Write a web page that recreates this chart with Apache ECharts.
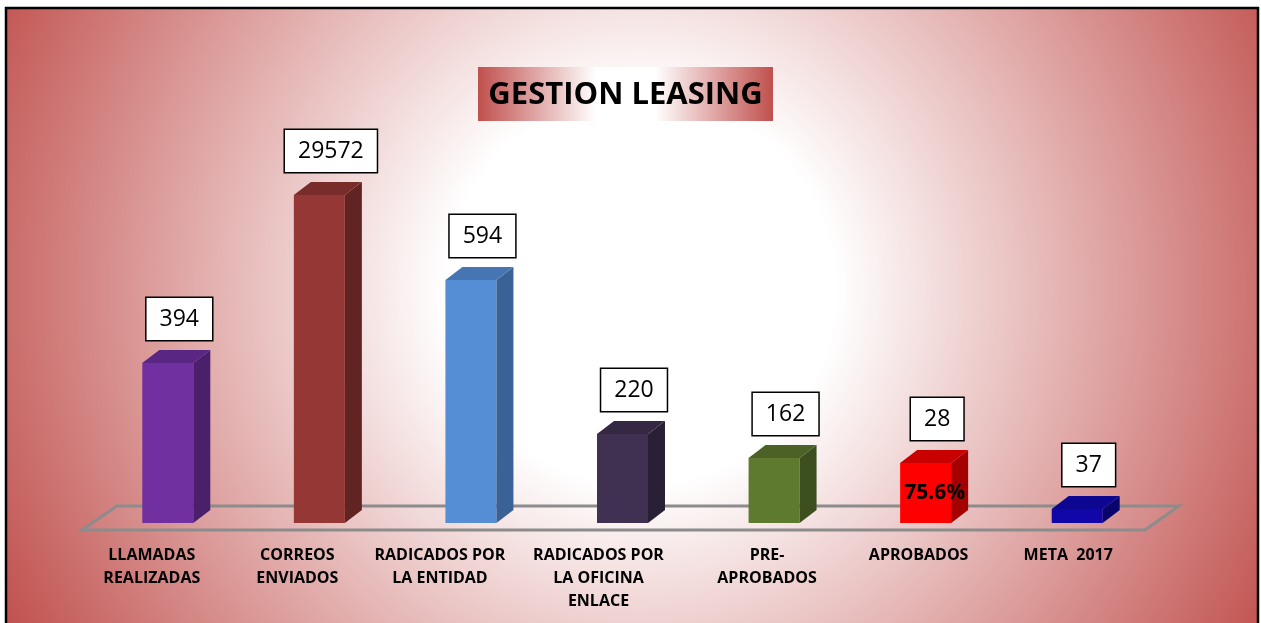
<!DOCTYPE html>
<html>
<head>
<meta charset="utf-8">
<script src="https://cdn.jsdelivr.net/npm/echarts@6/dist/echarts.min.js"></script>
<style>
  html, body { margin: 0; padding: 0; background: #fff; }
  #main { width: 1261px; height: 623px; }
</style>
</head>
<body>
<div id="main"></div>
<script>
// categories and values
const categories = [
  'LLAMADAS\nREALIZADAS',
  'CORREOS\nENVIADOS',
  'RADICADOS POR\nLA ENTIDAD',
  'RADICADOS POR\nLA OFICINA\nENLACE',
  'PRE-\nAPROBADOS',
  'APROBADOS',
  'META  2017'
]
const labelValues = [394, 29572, 594, 220, 162, 28, 37]
// bar heights as drawn in the original (its scale does not follow the labels)
const barHeights = [160, 328, 243, 89, 65, 60, 14]
const innerLabels = ['', '', '', '', '', '75.6%', '']

const frontColors = ['#7030a0', '#953735', '#558ed5', '#403152', '#5e7a2f', '#ff0000', '#1107a8']
const sideColors = ['#4a1f6b', '#622422', '#3a6297', '#2a2036', '#3d4f1e', '#a50000', '#09046c']
const topColors = ['#5a2683', '#792d2b', '#4675b2', '#342842', '#4b6126', '#c80000', '#0c0690']
// how far each category label sits left of its bar (px)
const labelShift = [16, 22, 31, 24, 7, 7, 9]

const chart = echarts.init(document.getElementById('main'))

function renderFloor(params, api) {
  const cs = params.coordSys
  const yf = cs.y + cs.height + 7
  const yb = yf - 24
  const xl = cs.x - 10
  const xr = cs.x + cs.width - 8
  return {
    type: 'polygon',
    shape: { points: [[xl, yf], [xr, yf], [xr + 34, yb], [xl + 35, yb]] },
    style: { fill: 'rgba(255,255,255,0.05)', stroke: '#8c8c8c', lineWidth: 3 }
  }
}

function renderBar(params, api) {
  const i = params.dataIndex
  const base = api.coord([api.value(0), 0])
  const top = api.coord([api.value(0), api.value(1)])
  const w = 51, dx = 17, dy = 13
  const x0 = base[0] - w / 2
  const x1 = base[0] + w / 2
  const yb = base[1]
  const yt = top[1]
  const children = [
    {
      type: 'rect',
      shape: { x: x0, y: yt, width: w, height: yb - yt },
      style: { fill: frontColors[i] }
    },
    {
      type: 'polygon',
      shape: { points: [[x1, yt], [x1 + dx, yt - dy], [x1 + dx, yb - dy], [x1, yb]] },
      style: { fill: sideColors[i] }
    },
    {
      type: 'polygon',
      shape: { points: [[x0, yt], [x0 + dx, yt - dy], [x1 + dx, yt - dy], [x1, yt]] },
      style: { fill: topColors[i] }
    },
    {
      type: 'text',
      style: {
        text: String(labelValues[i]),
        x: base[0] + dx / 2 + 3,
        y: yt - dy - 10,
        align: 'center',
        verticalAlign: 'bottom',
        fontFamily: 'Open Sans',
        fontSize: 23,
        lineHeight: 30,
        fill: '#000',
        backgroundColor: '#fff',
        borderColor: '#000',
        borderWidth: 1.5,
        padding: [6, 13]
      },
      z2: 10
    }
  ]
  if (innerLabels[i]) {
    children.push({
      type: 'text',
      style: {
        text: innerLabels[i],
        x: base[0] + 9,
        y: (yt + yb) / 2,
        align: 'center',
        verticalAlign: 'middle',
        fontFamily: 'Open Sans',
        fontWeight: 'bold',
        fontSize: 21,
        fill: '#000'
      },
      z2: 10
    })
  }
  return { type: 'group', children: children }
}

const rich = {}
labelShift.forEach((s, i) => {
  rich['s' + i] = {
    color: '#000',
    fontFamily: 'Open Sans',
    fontWeight: 'bold',
    fontSize: 16,
    lineHeight: 23,
    padding: [0, s * 2, 0, 0]
  }
})

const option = {
  backgroundColor: '#fff',
  animation: false,
  graphic: [
    {
      type: 'rect',
      z: -10,
      silent: true,
      shape: { x: 6, y: 8, width: 1252, height: 700 },
      style: {
        fill: new echarts.graphic.RadialGradient(640, 290, 720, [
          { offset: 0, color: '#ffffff' },
          { offset: 0.27, color: '#ffffff' },
          { offset: 1, color: '#c0504d' }
        ], true),
        stroke: '#000',
        lineWidth: 2.5
      }
    },
    {
      type: 'group',
      left: 478,
      top: 67,
      z: 10,
      children: [
        {
          type: 'rect',
          shape: { x: 0, y: 0, width: 295, height: 54 },
          style: {
            fill: new echarts.graphic.LinearGradient(0, 0, 1, 0, [
              { offset: 0, color: '#c0504d' },
              { offset: 0.4, color: '#ffffff' },
              { offset: 0.6, color: '#ffffff' },
              { offset: 1, color: '#c0504d' }
            ])
          }
        },
        {
          type: 'text',
          style: {
            text: 'GESTION LEASING',
            x: 147.5,
            y: 28,
            align: 'center',
            verticalAlign: 'middle',
            fontFamily: 'Open Sans',
            fontWeight: 'bold',
            fontSize: 31,
            fill: '#000'
          }
        }
      ]
    }
  ],
  grid: { left: 92, right: 108, top: 173, bottom: 100 },
  xAxis: {
    type: 'category',
    data: categories,
    axisLine: { show: false },
    axisTick: { show: false },
    axisLabel: {
      interval: 0,
      margin: 21,
      lineHeight: 23,
      formatter: (value, index) => value.split('\n').map((line) => '{s' + index + '|' + line + '}').join('\n'),
      rich: rich
    }
  },
  yAxis: {
    type: 'value',
    min: 0,
    max: 350,
    show: false
  },
  series: [
    {
      type: 'custom',
      z: 1,
      silent: true,
      renderItem: renderFloor,
      data: [[0, 0]],
      encode: { x: 0, y: 1 }
    },
    {
      type: 'custom',
      z: 2,
      renderItem: renderBar,
      data: barHeights.map((h, i) => [i, h]),
      encode: { x: 0, y: 1 }
    }
  ]
}

chart.setOption(option)
</script>
</body>
</html>
